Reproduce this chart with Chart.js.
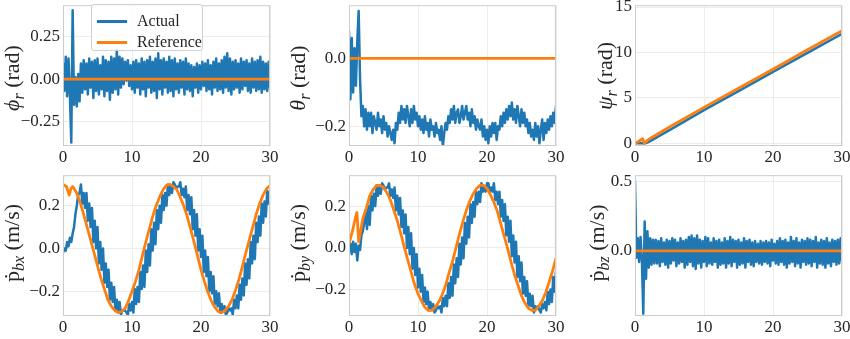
<!DOCTYPE html>
<html>
<head>
<meta charset="utf-8">
<script src="https://cdn.jsdelivr.net/npm/chart.js@4.4.0/dist/chart.umd.min.js"></script>
<style>
  body { margin: 0; background: #fff; }
  #fig { position: relative; width: 850px; height: 339px; overflow: hidden; font-family: 'Liberation Serif', serif; color: #262626; }
  #fig canvas { position: absolute; }
  .ylabel { position: absolute; transform: translate(-50%, -50%) rotate(-90deg); white-space: nowrap; font-size: 22px; }
  .ylabel sub { font-size: 16px; vertical-align: -5px; line-height: 0; }
  .legend { position: absolute; background: rgba(255, 255, 255, 0.8); border: 1px solid #d0d0d0; border-radius: 3px; box-sizing: border-box; }
  .legend .row { position: absolute; left: 0; height: 0; }
  .legend .swatch { position: absolute; left: 5px; width: 30px; height: 3px; top: -1.5px; }
  .legend .text { position: absolute; left: 45px; top: -10px; font-size: 16px; line-height: 20px; white-space: nowrap; }
</style>
</head>
<body>
<div id="fig">
  <canvas id="phi"></canvas>
  <canvas id="theta"></canvas>
  <canvas id="psi"></canvas>
  <canvas id="pbx"></canvas>
  <canvas id="pby"></canvas>
  <canvas id="pbz"></canvas>

  <div class="ylabel" style="left:12px;top:78px"><i>ϕ</i><sub><i>r</i></sub> (rad)</div>
  <div class="ylabel" style="left:298px;top:78px"><i>θ</i><sub><i>r</i></sub> (rad)</div>
  <div class="ylabel" style="left:605px;top:76px"><i>ψ</i><sub><i>r</i></sub> (rad)</div>
  <div class="ylabel" style="left:12px;top:243px">ṗ<sub><i>bx</i></sub> (m/s)</div>
  <div class="ylabel" style="left:298px;top:243px">ṗ<sub><i>by</i></sub> (m/s)</div>
  <div class="ylabel" style="left:597px;top:243px">ṗ<sub><i>bz</i></sub> (m/s)</div>

  <div class="legend" style="left:91px;top:4px;width:112px;height:47px">
    <div class="row" style="top:16px"><span class="swatch" style="background:#1f77b4"></span><span class="text">Actual</span></div>
    <div class="row" style="top:37px"><span class="swatch" style="background:#ff7f0e"></span><span class="text">Reference</span></div>
  </div>
</div>

<script>
// logged signals are sampled every DT seconds, starting at t = 0
const DT = 0.2;

const xTicks = [0, 10, 20, 30];
const xTickLabels = ['0', '10', '20', '30'];

// roll
const phiActual = [
  0.09, -0.07, 0.13, -0.10, 0.12, -0.09, -0.37, 0.40, -0.15, 0.01, -0.16, 0.03, -0.13, 0.09, -0.08,
  0.11, -0.06, 0.09, -0.09, 0.12, -0.05, 0.10, -0.11, 0.11, -0.07,
  0.12, -0.09, 0.08, -0.06, 0.13, -0.10, 0.11, -0.07, 0.10, -0.12,
  0.13, -0.08, 0.12, -0.06, 0.17, -0.09, 0.13, -0.05, 0.12, -0.03,
  0.10, -0.01, 0.11, -0.04, 0.08, -0.06, 0.10, -0.08, 0.11, -0.05,
  0.09, -0.09, 0.12, -0.06, 0.10, -0.10, 0.11, -0.05, 0.13, -0.08,
  0.10, -0.07, 0.12, -0.11, 0.15, -0.06, 0.11, -0.09, 0.12, -0.05,
  0.10, -0.08, 0.13, -0.07, 0.11, -0.10, 0.12, -0.06, 0.09, -0.08,
  0.11, -0.05, 0.10, -0.09, 0.12, -0.06, 0.09, -0.07, 0.08, -0.10,
  0.07, -0.05, 0.09, -0.08, 0.08, -0.06, 0.10, -0.04, 0.09, -0.07,
  0.11, -0.06, 0.08, -0.09, 0.10, -0.05, 0.12, -0.07, 0.09, -0.06,
  0.11, -0.08, 0.13, -0.05, 0.15, -0.07, 0.12, -0.09, 0.10, -0.06,
  0.11, -0.05, 0.09, -0.08, 0.12, -0.06, 0.10, -0.04, 0.11, -0.07,
  0.09, -0.08, 0.12, -0.05, 0.10, -0.07, 0.11, -0.06, 0.13, -0.08,
  0.10, -0.06, 0.09, -0.07, 0.10, -0.05
];
const zeroTime = [0, 30];
const phiRef = [0, 0];
const phiTicks = [-0.25, 0, 0.25];
const phiTickLabels = ['−0.25', '0.00', '0.25'];

// pitch
const thetaActual = [
  0.08, -0.12, 0.06, -0.10, 0.03, -0.08, 0.05, 0.14, -0.06, -0.17, -0.14, -0.20, -0.15, -0.21, -0.16,
  -0.20, -0.16, -0.22, -0.17, -0.19, -0.21, -0.16, -0.20, -0.18, -0.22,
  -0.17, -0.21, -0.19, -0.23, -0.20, -0.22, -0.24, -0.21, -0.25, -0.19,
  -0.21, -0.16, -0.19, -0.14, -0.18, -0.15, -0.19, -0.14, -0.17, -0.20,
  -0.15, -0.19, -0.14, -0.18, -0.16, -0.20, -0.17, -0.21, -0.18, -0.22,
  -0.17, -0.21, -0.19, -0.23, -0.18, -0.21, -0.20, -0.23, -0.19, -0.22,
  -0.21, -0.24, -0.20, -0.26, -0.22, -0.19, -0.21, -0.17, -0.19, -0.15,
  -0.18, -0.14, -0.19, -0.16, -0.15, -0.19, -0.17, -0.14, -0.18, -0.16,
  -0.14, -0.18, -0.16, -0.20, -0.15, -0.19, -0.17, -0.21, -0.18, -0.20,
  -0.21, -0.18, -0.23, -0.20, -0.24, -0.21, -0.25, -0.20, -0.23, -0.19,
  -0.22, -0.19, -0.24, -0.20, -0.21, -0.17, -0.20, -0.16, -0.19, -0.15,
  -0.18, -0.14, -0.17, -0.13, -0.18, -0.15, -0.19, -0.14, -0.17, -0.20,
  -0.15, -0.19, -0.16, -0.20, -0.18, -0.22, -0.19, -0.23, -0.21, -0.24,
  -0.19, -0.23, -0.20, -0.25, -0.21, -0.18, -0.24, -0.19, -0.22, -0.18,
  -0.21, -0.17, -0.20, -0.16, -0.19, -0.14
];
const thetaRef = [0, 0];
const thetaTicks = [-0.2, 0];
const thetaTickLabels = ['−0.2', '0.0'];

// yaw
const psiActTime = [0, 1.5, 2, 5, 10, 15, 20, 25, 30];
const psiActual = [0, 0.0, 0.15, 1.45, 3.65, 5.75, 7.85, 9.95, 12.05];
const psiRefTime = [0, 0.5, 1.1, 1.35, 2, 5, 10, 15, 20, 25, 30];
const psiRef = [0, 0.2, 0.5, 0.0, 0.45, 1.8, 3.95, 6.05, 8.15, 10.3, 12.4];
const psiTicks = [0, 5, 10, 15];
const psiTickLabels = ['0', '5', '10', '15'];

// body velocities
const pbxActual = [
  -0.02, 0.00, -0.01, 0.03, 0.01, 0.05, 0.03, 0.07, 0.10, 0.16, 0.20, 0.25,
  0.26, 0.30, 0.21, 0.26, 0.19, 0.26, 0.13, 0.21, 0.10, 0.19,
  0.03, 0.13, 0.00, 0.10, -0.07, 0.03, -0.10, 0.00, -0.16, -0.07,
  -0.18, -0.10, -0.24, -0.16, -0.25, -0.18, -0.29, -0.24, -0.29, -0.25,
  -0.31, -0.29, -0.29, -0.29, -0.30, -0.31, -0.26, -0.29, -0.25, -0.30,
  -0.19, -0.26, -0.18, -0.25, -0.11, -0.19, -0.08, -0.18, -0.01, -0.11,
  0.02, -0.08, 0.09, -0.01, 0.12, 0.02, 0.18, 0.09, 0.20, 0.12,
  0.25, 0.18, 0.26, 0.20, 0.30, 0.25, 0.29, 0.26, 0.31, 0.30,
  0.28, 0.29, 0.29, 0.31, 0.25, 0.28, 0.24, 0.29, 0.18, 0.25,
  0.16, 0.24, 0.09, 0.18, 0.06, 0.16, -0.01, 0.09, -0.04, 0.06,
  -0.11, -0.01, -0.13, -0.04, -0.20, -0.11, -0.21, -0.13, -0.26, -0.20,
  -0.27, -0.21, -0.30, -0.26, -0.29, -0.27, -0.31, -0.30, -0.28, -0.29,
  -0.28, -0.31, -0.24, -0.28, -0.22, -0.28, -0.17, -0.24, -0.14, -0.22,
  -0.07, -0.17, -0.05, -0.14, 0.03, -0.07, 0.06, -0.05, 0.12, 0.03,
  0.15, 0.06, 0.21, 0.12, 0.22, 0.15, 0.27, 0.21, 0.27
];
const pbyActual = [
  -0.02, 0.02, -0.03, 0.03, -0.02, 0.02, -0.06, 0.01, -0.01, 0.06, 0.08, 0.12,
  0.18, 0.09, 0.20, 0.11, 0.25, 0.18, 0.26, 0.20, 0.30, 0.25,
  0.29, 0.26, 0.31, 0.30, 0.28, 0.29, 0.29, 0.31, 0.25, 0.28,
  0.24, 0.29, 0.18, 0.25, 0.16, 0.24, 0.10, 0.18, 0.07, 0.16,
  0.00, 0.10, -0.03, 0.07, -0.10, 0.00, -0.13, -0.03, -0.19, -0.10,
  -0.21, -0.13, -0.26, -0.19, -0.27, -0.21, -0.30, -0.26, -0.29, -0.27,
  -0.31, -0.30, -0.28, -0.29, -0.28, -0.31, -0.24, -0.28, -0.23, -0.28,
  -0.17, -0.24, -0.14, -0.23, -0.08, -0.17, -0.05, -0.14, 0.02, -0.08,
  0.05, -0.05, 0.12, 0.02, 0.15, 0.05, 0.21, 0.12, 0.22, 0.15,
  0.27, 0.21, 0.27, 0.22, 0.31, 0.27, 0.29, 0.27, 0.31, 0.31,
  0.27, 0.29, 0.27, 0.31, 0.23, 0.27, 0.21, 0.27, 0.15, 0.23,
  0.13, 0.21, 0.06, 0.15, 0.03, 0.13, -0.04, 0.06, -0.07, 0.03,
  -0.14, -0.04, -0.16, -0.07, -0.22, -0.14, -0.23, -0.16, -0.28, -0.22,
  -0.28, -0.23, -0.31, -0.28, -0.29, -0.28, -0.30, -0.31, -0.27, -0.29,
  -0.26, -0.30, -0.21, -0.27, -0.20, -0.26, -0.14, -0.21, -0.11
];
const pbzActual = [
  0.50, -0.05, 0.09, -0.08, 0.10, -0.06, -0.45, 0.21, -0.20, 0.14, -0.12, 0.09, -0.10, 0.08, -0.09,
  0.08, -0.09, 0.07, -0.11, 0.09, -0.08, 0.06, -0.10, 0.08, -0.12,
  0.07, -0.09, 0.09, -0.07, 0.08, -0.11, 0.06, -0.09, 0.09, -0.08,
  0.07, -0.12, 0.08, -0.10, 0.10, -0.08, 0.11, -0.11, 0.09, -0.13,
  0.11, -0.09, 0.08, -0.12, 0.07, -0.08, 0.10, -0.11, 0.09, -0.09,
  0.06, -0.10, 0.09, -0.08, 0.07, -0.12, 0.08, -0.10, 0.06, -0.09,
  0.09, -0.12, 0.07, -0.09, 0.10, -0.11, 0.08, -0.08, 0.07, -0.12,
  0.08, -0.10, 0.06, -0.09, 0.09, -0.12, 0.07, -0.08, 0.08, -0.10,
  0.06, -0.11, 0.07, -0.08, 0.05, -0.09, 0.07, -0.10, 0.06, -0.08,
  0.07, -0.09, 0.06, -0.11, 0.08, -0.07, 0.05, -0.09, 0.07, -0.10,
  0.09, -0.08, 0.07, -0.10, 0.08, -0.12, 0.06, -0.09, 0.10, -0.08,
  0.07, -0.11, 0.09, -0.09, 0.06, -0.12, 0.08, -0.08, 0.07, -0.10,
  0.09, -0.09, 0.08, -0.11, 0.07, -0.08, 0.10, -0.12, 0.06, -0.09,
  0.08, -0.10, 0.07, -0.12, 0.09, -0.09, 0.06, -0.11, 0.08, -0.08,
  0.07, -0.10, 0.08, -0.09, 0.09, -0.07
];

// commanded velocities
const refTime = [
  0, 0.5, 0.9, 1.15, 1.4, 2.0, 2.5, 3.0, 3.5, 4.0, 4.5, 5.0, 5.5, 6.0, 6.5, 7.0, 7.5, 8.0, 8.5, 9.0, 9.5,
  10.0, 10.5, 11.0, 11.5, 12.0, 12.5, 13.0, 13.5, 14.0, 14.5, 15.0, 15.5, 16.0, 16.5, 17.0, 17.5, 18.0, 18.5, 19.0, 19.5,
  20.0, 20.5, 21.0, 21.5, 22.0, 22.5, 23.0, 23.5, 24.0, 24.5, 25.0, 25.5, 26.0, 26.5, 27.0, 27.5, 28.0, 28.5, 29.0, 29.5,
  30.0
];
const pbxRef = [
  0.30, 0.29, 0.25, 0.28, 0.29, 0.26, 0.215, 0.16, 0.10, 0.04, -0.02, -0.08, -0.14, -0.19, -0.24, -0.27, -0.29, -0.30, -0.295, -0.28, -0.245,
  -0.20, -0.155, -0.10, -0.035, 0.03, 0.09, 0.15, 0.20, 0.24, 0.275, 0.295, 0.30, 0.29, 0.275, 0.24, 0.20, 0.15, 0.09, 0.03, -0.035,
  -0.10, -0.155, -0.205, -0.245, -0.275, -0.295, -0.30, -0.29, -0.27, -0.24, -0.195, -0.145, -0.085, -0.02, 0.04, 0.10, 0.16, 0.21, 0.25, 0.28,
  0.295
];
const pbyRef = [
  0.02, 0.08, 0.14, 0.17, 0.03, 0.14, 0.19, 0.25, 0.28, 0.30, 0.30, 0.29, 0.265, 0.23, 0.18, 0.13, 0.07, 0.005, -0.055, -0.115, -0.175,
  -0.22, -0.255, -0.285, -0.30, -0.30, -0.285, -0.26, -0.225, -0.18, -0.12, -0.065, 0.00, 0.065, 0.125, 0.18, 0.225, 0.26, 0.285, 0.30, 0.30,
  0.285, 0.255, 0.22, 0.175, 0.115, 0.055, -0.005, -0.07, -0.13, -0.18, -0.23, -0.265, -0.29, -0.30, -0.30, -0.28, -0.255, -0.215, -0.165, -0.11,
  -0.05
];
const pbzRef = [0, 0];
const pbTicks = [-0.2, 0, 0.2];
const pbTickLabels = ['−0.2', '0.0', '0.2'];
const pbzTicks = [0, 0.5];
const pbzTickLabels = ['0.0', '0.5'];

const BLUE = '#1f77b4';
const ORANGE = '#ff7f0e';
const GRID = '#ececec';
const INK = '#262626';
const TICK_FONT = { family: 'Liberation Serif', size: 17 };

const PLOT_W = 207, PLOT_H = 142;
const AXIS_W = 46, AXIS_H = 24, PAD_TOP = 12, PAD_RIGHT = 14;

function sampled(values) {
  return values.map((v, i) => ({ x: i * DT, y: v }));
}

function paired(times, values) {
  return times.map((t, i) => ({ x: t, y: values[i] }));
}

// light grey box around each axes
const frame = {
  id: 'frame',
  afterDraw(chart) {
    const { ctx, chartArea: a } = chart;
    ctx.save();
    ctx.strokeStyle = '#cccccc';
    ctx.lineWidth = 1;
    ctx.strokeRect(a.left + 0.5, a.top + 0.5, a.width - 1, a.height - 1);
    ctx.restore();
  }
};

function panel(id, left, top, actual, ref, yMin, yMax, yTicks, yTickLabels) {
  const canvas = document.getElementById(id);
  canvas.width = AXIS_W + PLOT_W + PAD_RIGHT;
  canvas.height = PAD_TOP + PLOT_H + AXIS_H;
  canvas.style.left = (left - AXIS_W) + 'px';
  canvas.style.top = (top - PAD_TOP) + 'px';

  return new Chart(canvas, {
    type: 'line',
    data: {
      datasets: [
        { label: 'Reference', data: ref, borderColor: ORANGE, borderWidth: 2.8, order: 0 },
        { label: 'Actual', data: actual, borderColor: BLUE, borderWidth: 2.5, order: 1 }
      ]
    },
    options: {
      responsive: false,
      animation: false,
      devicePixelRatio: 1,
      layout: { padding: { top: PAD_TOP, right: PAD_RIGHT } },
      plugins: { legend: { display: false }, tooltip: { enabled: false } },
      elements: {
        point: { radius: 0 },
        line: { tension: 0, borderJoinStyle: 'round', borderCapStyle: 'round' }
      },
      scales: {
        x: {
          type: 'linear', min: 0, max: 30,
          afterBuildTicks: s => { s.ticks = xTicks.map(v => ({ value: v })); },
          afterFit: s => { s.height = AXIS_H; },
          grid: { color: GRID, drawTicks: false },
          border: { display: false },
          ticks: { padding: 1, color: INK, font: TICK_FONT, maxRotation: 0, autoSkip: false,
                   callback: (v, i) => xTickLabels[i] }
        },
        y: {
          type: 'linear', min: yMin, max: yMax,
          afterBuildTicks: s => { s.ticks = yTicks.map(v => ({ value: v })); },
          afterFit: s => { s.width = AXIS_W; },
          grid: { color: GRID, drawTicks: false },
          border: { display: false },
          ticks: { padding: 3, color: INK, font: TICK_FONT, autoSkip: false,
                   callback: (v, i) => yTickLabels[i] }
        }
      }
    },
    plugins: [frame]
  });
}

panel('phi', 63, 4, sampled(phiActual), paired(zeroTime, phiRef), -0.39, 0.43, phiTicks, phiTickLabels);
panel('theta', 349, 4, sampled(thetaActual), paired(zeroTime, thetaRef), -0.258, 0.157, thetaTicks, thetaTickLabels);
panel('psi', 635, 4, paired(psiActTime, psiActual), paired(psiRefTime, psiRef), -0.3, 15.2, psiTicks, psiTickLabels);
panel('pbx', 63, 174, sampled(pbxActual), paired(refTime, pbxRef), -0.316, 0.343, pbTicks, pbTickLabels);
panel('pby', 349, 174, sampled(pbyActual), paired(refTime, pbyRef), -0.327, 0.349, pbTicks, pbTickLabels);
panel('pbz', 635, 174, sampled(pbzActual), paired(zeroTime, pbzRef), -0.467, 0.542, pbzTicks, pbzTickLabels);
</script>
</body>
</html>
